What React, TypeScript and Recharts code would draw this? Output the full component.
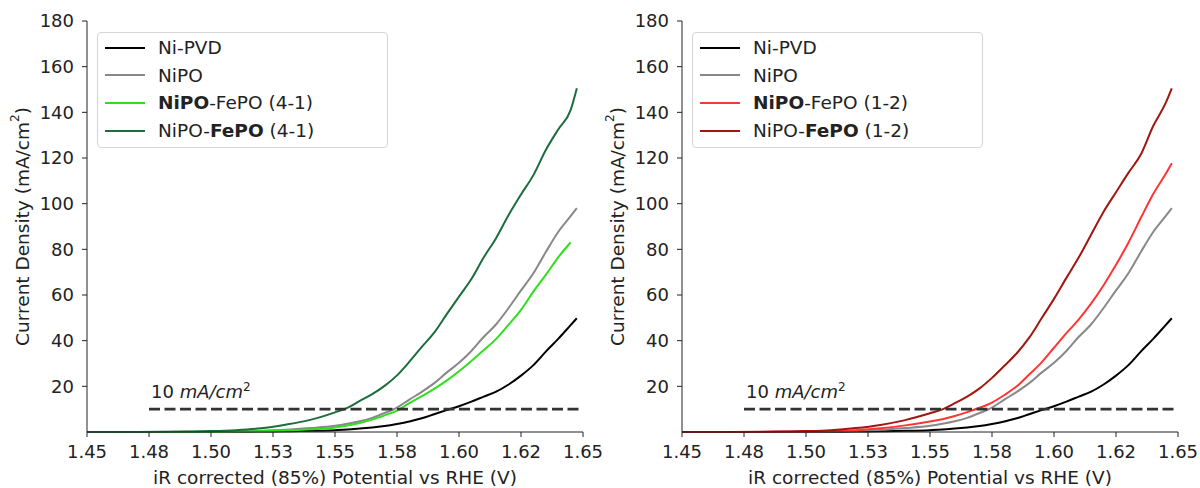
import React from 'react'
import { LineChart, Line, XAxis, YAxis, ReferenceLine, ReferenceDot, Legend, Label } from 'recharts'

const FONT = '"DejaVu Sans", sans-serif'

// potential axis (V vs RHE) shared by all curves
const potential = [
  1.45, 1.47, 1.49, 1.5, 1.51, 1.52, 1.53, 1.54, 1.55, 1.555, 1.56, 1.565, 1.57, 1.575, 1.58,
  1.585, 1.59, 1.595, 1.6, 1.605, 1.61, 1.615, 1.62, 1.625, 1.63, 1.635, 1.64, 1.645, 1.6475,
]

// current density, mA/cm2
const niPvd = [
  0, 0, 0.02, 0.05, 0.1, 0.2, 0.3, 0.5, 0.8, 1.05, 1.5, 2.0, 2.6, 3.5, 4.6, 6.0, 7.8, 9.6, 11.3,
  13.3, 15.5, 17.7, 20.8, 24.7, 29.3, 35.2, 40.8, 46.8, 49.8,
]
const niPo = [
  0, 0.02, 0.1, 0.2, 0.35, 0.6, 0.95, 1.7, 2.7, 3.6, 4.7, 6.2, 8.3, 10.7, 14.2, 17.6, 21.4, 26,
  30.3, 35.5, 41.7, 47.2, 54.3, 62, 69.5, 78.8, 87.6, 94.5, 98,
]
const niPoFePo41 = [
  0, 0.01, 0.05, 0.1, 0.2, 0.35, 0.65, 1.2, 2.0, 2.8, 3.9, 5.4, 7.3, 9.4, 12.6, 15.7, 18.9, 22.5,
  26.6, 31.1, 35.9, 40.8, 47, 53.5, 61.5, 68.8, 76.5, 83, null,
]
const fePoNiPo41 = [
  0, 0.05, 0.2, 0.4, 0.8, 1.6, 3.2, 5.3, 8.6, 10.6, 13.6, 16.6, 20.2, 24.8, 30.8, 37.3, 43.5, 51.5,
  59.3, 67, 76.5, 85, 95, 104, 112.5, 123.5, 132.5, 141, 150.5,
]
const niPoFePo12 = [
  0, 0.02, 0.1, 0.2, 0.4, 0.8, 1.6, 2.9, 4.6, 5.6, 7.0, 8.7, 10.6, 12.9, 16.2, 20, 25.2, 30.5,
  36.9, 43.3, 49.3, 56.3, 64.3, 73.2, 82.9, 93.7, 104.2, 113, 117.7,
]
const fePoNiPo12 = [
  0, 0.05, 0.2, 0.4, 0.8, 1.7, 3.1, 5.2, 8.2, 9.9, 12.6, 15.5, 19.1, 23.7, 29, 34.5, 41.3, 49.8,
  58.3, 67.5, 76.5, 86.5, 96.5, 105, 113.5, 121.5, 134, 144, 150.5,
]

const xTicks = [1.45, 1.475, 1.5, 1.525, 1.55, 1.575, 1.6, 1.625, 1.65]
const xTickLabels = ['1.45', '1.48', '1.50', '1.53', '1.55', '1.58', '1.60', '1.62', '1.65']
const yTicks = [20, 40, 60, 80, 100, 120, 140, 160, 180]

const rows = potential.map((v, i) => ({
  v,
  niPvd: niPvd[i],
  niPo: niPo[i],
  niPoFePo41: niPoFePo41[i],
  fePoNiPo41: fePoNiPo41[i],
  niPoFePo12: niPoFePo12[i],
  fePoNiPo12: fePoNiPo12[i],
}))

type Series = { key: string; color: string; name: React.ReactNode }

const leftSeries: Series[] = [
  { key: 'niPvd', color: '#000000', name: <>Ni-PVD</> },
  { key: 'niPo', color: '#888888', name: <>NiPO</> },
  { key: 'niPoFePo41', color: '#2ee01a', name: <><b>NiPO</b>-FePO (4-1)</> },
  { key: 'fePoNiPo41', color: '#1b6e3c', name: <>NiPO-<b>FePO</b> (4-1)</> },
]

const rightSeries: Series[] = [
  { key: 'niPvd', color: '#000000', name: <>Ni-PVD</> },
  { key: 'niPo', color: '#888888', name: <>NiPO</> },
  { key: 'niPoFePo12', color: '#ff3535', name: <><b>NiPO</b>-FePO (1-2)</> },
  { key: 'fePoNiPo12', color: '#a3150f', name: <>NiPO-<b>FePO</b> (1-2)</> },
]

const TICK = 18
const LABEL = 18.5

const LegendBox = ({ series }: { series: Series[] }) => (
  <div
    style={{
      width: 289,
      height: 113,
      border: '1px solid #d6d6d6',
      borderRadius: 4,
      background: 'rgba(255,255,255,0.85)',
      fontFamily: FONT,
      fontSize: 18.5,
      color: '#222',
      paddingTop: 1,
      boxSizing: 'content-box',
    }}
  >
    {series.map((s) => (
      <div key={s.key} style={{ display: 'flex', alignItems: 'center', height: 27.6 }}>
        <span style={{ display: 'inline-block', width: 40, height: 2, background: s.color, marginLeft: 7, marginRight: 13, flexShrink: 0 }} />
        <span style={{ whiteSpace: 'nowrap' }}>{s.name}</span>
      </div>
    ))}
  </div>
)

type PanelProps = {
  series: Series[]
  chartWidth: number
  plotLeft: number
  legendLeft: number
  yLabelX: number
}

const Panel = ({ series, chartWidth, plotLeft, legendLeft, yLabelX }: PanelProps) => {
  const plotRight = chartWidth - (plotLeft + 496)
  return (
    <LineChart
      width={chartWidth}
      height={488}
      data={rows}
      margin={{ top: 21, right: plotRight, bottom: 26, left: plotLeft - 60 }}
      style={{ fontFamily: FONT }}
    >
      <XAxis
        dataKey="v"
        type="number"
        domain={[1.45, 1.65]}
        ticks={xTicks}
        tickFormatter={(t: number, i: number) => xTickLabels[i] ?? String(t)}
        tickSize={5}
        tickMargin={8}
        height={30}
        stroke="#222"
        tick={{ fill: '#222', fontSize: TICK }}
        interval={0}
      >
        <Label
          content={({ viewBox }: any) => (
            <text x={viewBox.x + viewBox.width / 2} y={484} textAnchor="middle" fontSize={LABEL} fill="#222" fontFamily={FONT}>
              iR corrected (85%) Potential vs RHE (V)
            </text>
          )}
        />
      </XAxis>
      <XAxis xAxisId="top" orientation="top" type="number" domain={[1.45, 1.65]} height={0} tick={false} tickLine={false} stroke="#222" />
      <YAxis
        type="number"
        domain={[0, 180]}
        ticks={yTicks}
        width={60}
        tickSize={5}
        tickMargin={8}
        stroke="#222"
        tick={{ fill: '#222', fontSize: TICK }}
        interval={0}
      >
        <Label
          content={({ viewBox }: any) => {
            const cy = viewBox.y + viewBox.height / 2
            return (
              <text
                x={yLabelX}
                y={cy}
                transform={`rotate(-90 ${yLabelX} ${cy})`}
                textAnchor="middle"
                dominantBaseline="central"
                fontSize={LABEL}
                fill="#222"
                fontFamily={FONT}
              >
                Current Density (mA/cm<tspan dy={-7} fontSize={12}>2</tspan>
                <tspan dy={7}>)</tspan>
              </text>
            )
          }}
        />
      </YAxis>
      <YAxis yAxisId="right" orientation="right" domain={[0, 180]} width={0} tick={false} tickLine={false} stroke="#222" />
      {series.map((s) => (
        <Line
          key={s.key}
          dataKey={s.key}
          stroke={s.color}
          strokeWidth={2}
          dot={false}
          type="monotone"
          isAnimationActive={false}
        />
      ))}
      <ReferenceLine
        segment={[
          { x: 1.475, y: 10 },
          { x: 1.65, y: 10 },
        ]}
        stroke="#333"
        strokeWidth={2.8}
        strokeDasharray="11 4.5"
      />
      <ReferenceDot
        x={1.475}
        y={15}
        r={0}
        fill="none"
        stroke="none"
        label={{
          content: ({ viewBox }: any) => {
            const x = viewBox.x ?? viewBox.cx
            const y = (viewBox.y ?? viewBox.cy) + (viewBox.height ? viewBox.height / 2 : 0)
            return (
              <text x={x + 2} y={y} fontSize={TICK} fill="#222" fontFamily={FONT}>
                10 <tspan fontStyle="italic">mA/cm</tspan>
                <tspan dy={-7} fontSize={12}>2</tspan>
              </text>
            )
          },
        }}
      />
      <Legend
        layout="horizontal"
        verticalAlign="middle"
        align="center"
        wrapperStyle={{ left: legendLeft, top: 32, width: 291, height: 115 }}
        content={() => <LegendBox series={series} />}
      />
    </LineChart>
  )
}

export default function App() {
  return (
    <div style={{ position: 'absolute', left: 0, top: 0, width: 1200, height: 488, background: '#fff' }}>
      <div style={{ position: 'absolute', left: 0, top: 0 }}>
        <Panel series={leftSeries} chartWidth={625} plotLeft={87} legendLeft={97} yLabelX={22} />
      </div>
      <div style={{ position: 'absolute', left: 600, top: 0 }}>
        <Panel series={rightSeries} chartWidth={600} plotLeft={82} legendLeft={92} yLabelX={17} />
      </div>
    </div>
  )
}
